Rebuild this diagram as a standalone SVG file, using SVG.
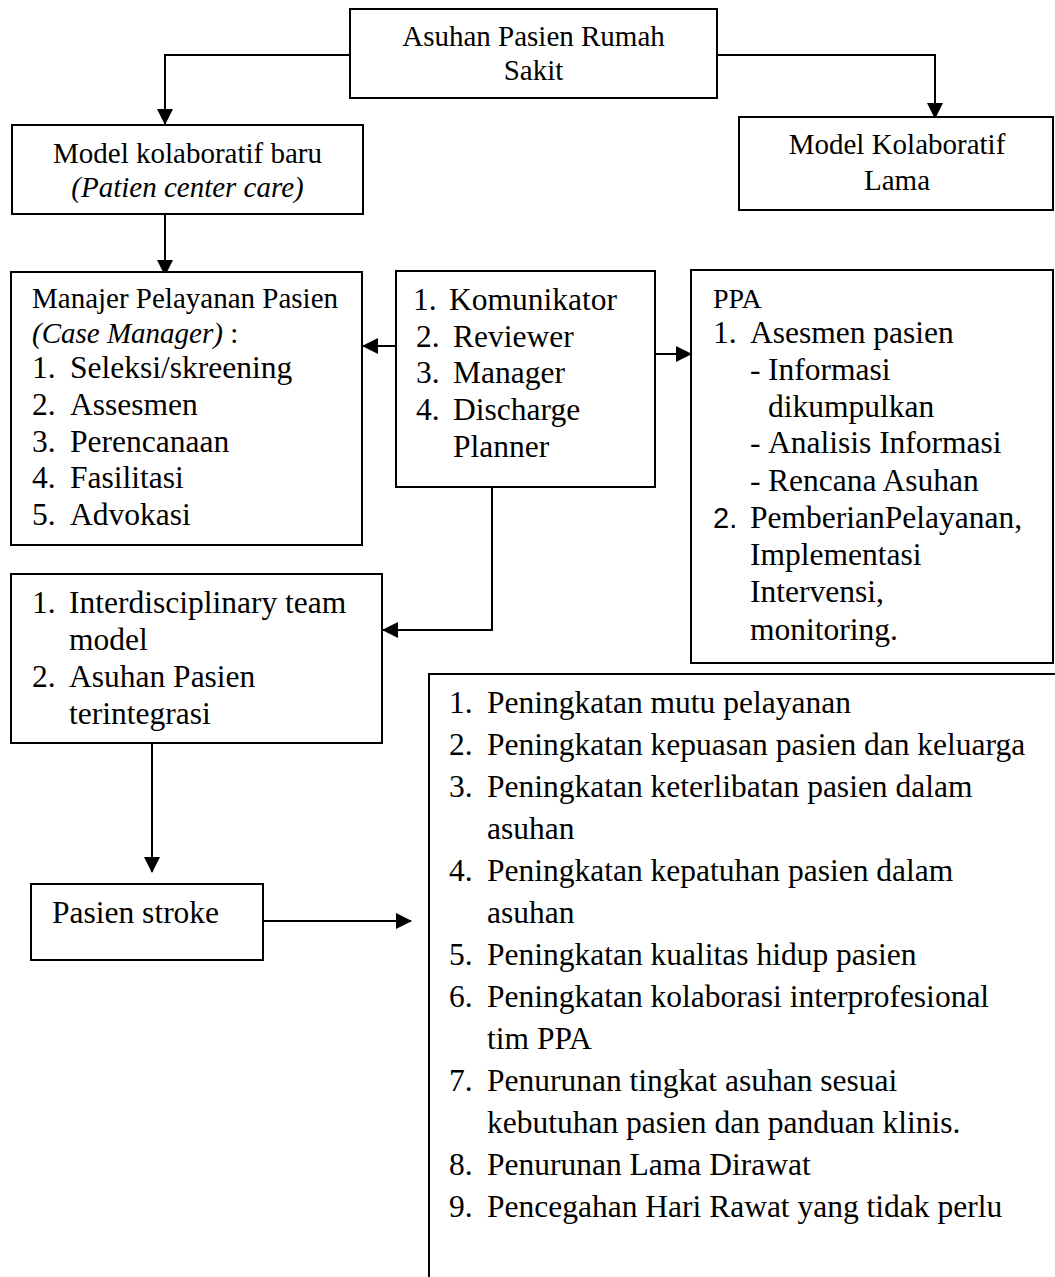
<svg xmlns="http://www.w3.org/2000/svg" width="1055" height="1277" viewBox="0 0 1055 1277">
<style>
.box{fill:#fff;stroke:#000;stroke-width:2}
.ln{fill:none;stroke:#000;stroke-width:2}
text{font-family:"Liberation Serif","Times New Roman",serif;fill:#000}
.h{font-size:29px}
.b{font-size:31.5px}
.i{font-style:italic}
.c{text-anchor:middle}
</style>
<defs>
<marker id="ah" markerUnits="userSpaceOnUse" markerWidth="16" markerHeight="16" viewBox="0 0 16 16" refX="15" refY="8" orient="auto">
<path d="M0,0 L16,8 L0,16 Z" fill="#000"/>
</marker>
</defs>
<rect width="1055" height="1277" fill="#fff"/>
<g id="connectors">
<path class="ln" d="M350,55 H165 V124" marker-end="url(#ah)"/>
<path class="ln" d="M717,55 H935 V118" marker-end="url(#ah)"/>
<path class="ln" d="M165,214 V275" marker-end="url(#ah)"/>
<path class="ln" d="M396,346 H363" marker-end="url(#ah)"/>
<path class="ln" d="M655,354 H691" marker-end="url(#ah)"/>
<path class="ln" d="M492,487 V630 H383" marker-end="url(#ah)"/>
<path class="ln" d="M152,743 V872" marker-end="url(#ah)"/>
<path class="ln" d="M263,921 H411" marker-end="url(#ah)"/>
</g>
<g id="n-top">
<rect class="box" x="350" y="9" width="367" height="89"/>
<text class="h c" x="533.5" y="46">Asuhan Pasien Rumah</text>
<text class="h c" x="533.5" y="80">Sakit</text>
</g>
<g id="n-baru">
<rect class="box" x="12" y="125" width="351" height="89"/>
<text class="h c" x="187.5" y="163">Model kolaboratif baru</text>
<text class="h c i" x="187.5" y="197">(Patien center care)</text>
</g>
<g id="n-lama">
<rect class="box" x="739" y="117" width="314" height="93"/>
<text class="h c" x="897" y="154">Model Kolaboratif</text>
<text class="h c" x="897" y="190">Lama</text>
</g>
<g id="n-manajer">
<rect class="box" x="11" y="272" width="351" height="273"/>
<text class="h" x="32" y="308">Manajer Pelayanan Pasien</text>
<text class="h" x="32" y="343"><tspan class="i">(Case Manager)</tspan> :</text>
<text class="b" x="32" y="378">1.</text><text class="b" x="70" y="378">Seleksi/skreening</text>
<text class="b" x="32" y="415">2.</text><text class="b" x="70" y="415">Assesmen</text>
<text class="b" x="32" y="452">3.</text><text class="b" x="70" y="452">Perencanaan</text>
<text class="b" x="32" y="488">4.</text><text class="b" x="70" y="488">Fasilitasi</text>
<text class="b" x="32" y="525">5.</text><text class="b" x="70" y="525">Advokasi</text>
</g>
<g id="n-peran">
<rect class="box" x="396" y="271" width="259" height="216"/>
<text class="b" x="413" y="310">1.</text><text class="b" x="449" y="310">Komunikator</text>
<text class="b" x="416" y="347">2.</text><text class="b" x="453" y="347">Reviewer</text>
<text class="b" x="416" y="383">3.</text><text class="b" x="453" y="383">Manager</text>
<text class="b" x="416" y="420">4.</text><text class="b" x="453" y="420">Discharge</text>
<text class="b" x="453" y="457">Planner</text>
</g>
<g id="n-ppa">
<rect class="box" x="691" y="270" width="362" height="393"/>
<text x="713" y="308" font-size="28">PPA</text>
<text class="b" x="713" y="343">1.</text><text class="b" x="750" y="343">Asesmen pasien</text>
<text class="b" x="750" y="380">-</text><text class="b" x="768" y="380">Informasi</text>
<text class="b" x="768" y="417">dikumpulkan</text>
<text class="b" x="750" y="453">-</text><text class="b" x="768" y="453">Analisis Informasi</text>
<text class="b" x="750" y="491">-</text><text class="b" x="768" y="491">Rencana Asuhan</text>
<text x="713" y="528" font-size="29" style="font-family:'Liberation Sans',Arial,sans-serif">2.</text><text class="b" x="750" y="528">PemberianPelayanan,</text>
<text class="b" x="750" y="565">Implementasi</text>
<text class="b" x="750" y="602">Intervensi,</text>
<text class="b" x="750" y="640">monitoring.</text>
</g>
<g id="n-idt">
<rect class="box" x="11" y="574" width="371" height="169"/>
<text class="b" x="32" y="613">1.</text><text class="b" x="69" y="613">Interdisciplinary team</text>
<text class="b" x="69" y="650">model</text>
<text class="b" x="32" y="687">2.</text><text class="b" x="69" y="687">Asuhan Pasien</text>
<text class="b" x="69" y="724">terintegrasi</text>
</g>
<g id="n-stroke">
<rect class="box" x="31" y="884" width="232" height="76"/>
<text class="b" x="52" y="923">Pasien stroke</text>
</g>
<g id="n-hasil">
<path class="ln" d="M429,1277 V674 H1055"/>
<text class="b" x="449" y="713">1.</text><text class="b" x="487" y="713">Peningkatan mutu pelayanan</text>
<text class="b" x="449" y="755">2.</text><text class="b" x="487" y="755">Peningkatan kepuasan pasien dan keluarga</text>
<text class="b" x="449" y="797">3.</text><text class="b" x="487" y="797">Peningkatan keterlibatan pasien dalam</text>
<text class="b" x="487" y="839">asuhan</text>
<text class="b" x="449" y="881">4.</text><text class="b" x="487" y="881">Peningkatan kepatuhan pasien dalam</text>
<text class="b" x="487" y="923">asuhan</text>
<text class="b" x="449" y="965">5.</text><text class="b" x="487" y="965">Peningkatan kualitas hidup pasien</text>
<text class="b" x="449" y="1007">6.</text><text class="b" x="487" y="1007">Peningkatan kolaborasi interprofesional</text>
<text class="b" x="487" y="1049">tim PPA</text>
<text class="b" x="449" y="1091">7.</text><text class="b" x="487" y="1091">Penurunan tingkat asuhan sesuai</text>
<text class="b" x="487" y="1133">kebutuhan pasien dan panduan klinis.</text>
<text class="b" x="449" y="1175">8.</text><text class="b" x="487" y="1175">Penurunan Lama Dirawat</text>
<text class="b" x="449" y="1217">9.</text><text class="b" x="487" y="1217">Pencegahan Hari Rawat yang tidak perlu</text>
</g>
</svg>
